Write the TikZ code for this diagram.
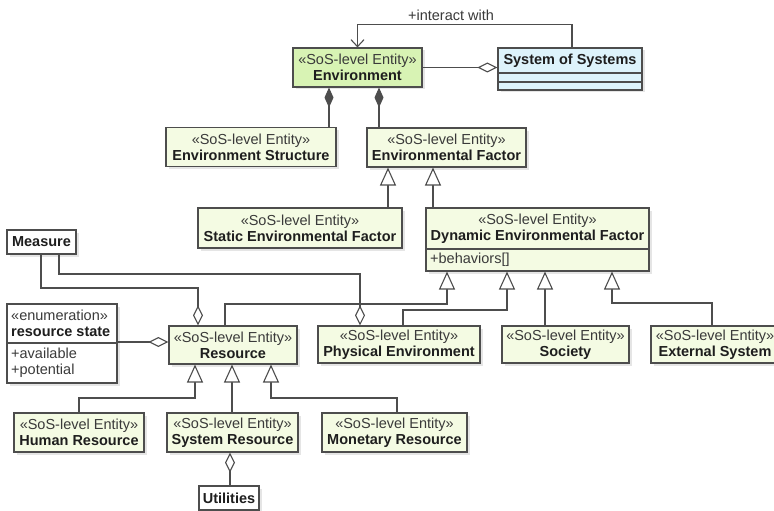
\documentclass[tikz,border=0pt]{standalone}
\usepackage{fontspec}
\setmainfont{Liberation Sans}
\usepackage{xcolor}
\usetikzlibrary{arrows.meta,shadows}

\definecolor{linegray}{HTML}{4D4D4D}
\definecolor{entgreen}{HTML}{F4FBE3}
\definecolor{envgreen}{HTML}{D8F3B4}
\definecolor{sosblue}{HTML}{DDF3FB}
\definecolor{txtgray}{HTML}{3A3A3A}
\definecolor{txtdark}{HTML}{1E1E1E}

\newcommand{\umlfont}{\fontsize{14.5}{16}\selectfont}
\newcommand{\stereo}[1]{{\color{txtgray}«#1»}}

\tikzset{
  entity/.style={draw=linegray, fill=entgreen, line width=1.1pt, align=center,
    inner sep=2pt, minimum height=39pt, font=\umlfont, text=txtdark,
    drop shadow={shadow xshift=2.5pt, shadow yshift=-2.5pt, fill=black!10, opacity=1}},
  plainbox/.style={entity, fill=white, font=\umlfont\bfseries, minimum height=24pt},
  gener/.style={draw=linegray, line width=1.1pt, -{Triangle[fill=white, length=18pt, width=16pt]}},
  aggr/.style={draw=linegray, line width=1.1pt, -{Diamond[fill=white, length=20pt, width=10pt]}},
  compo/.style={draw=linegray, line width=1.1pt, {Diamond[length=20pt, width=9pt]}-},
  navig/.style={draw=linegray, line width=1.1pt, -{Straight Barb[length=7pt, width=13pt]}},
  sepline/.style={draw=linegray, line width=1.1pt}
}

\begin{document}
\begin{tikzpicture}[x=1pt, y=-1pt]

    % Fix the picture size
    \clip (0,0) rectangle (774,511);
    \fill[white] (0,0) rectangle (774,511);

    % Top: environment and system of systems
    \node[entity, fill=envgreen, minimum width=129pt] (env) at (357.5,67.5)
        {\stereo{SoS-level Entity}\\\textbf{Environment}};
    \node[entity, fill=sosblue, minimum width=144pt, minimum height=42pt] (sos) at (570,69) {};
    \node[font=\umlfont\bfseries, text=txtdark] (sosname) at (570,60.5) {System of Systems};
    \draw[sepline] (sos.west |- 0,73) -- (sos.east |- 0,73);
    \draw[sepline] (sos.west |- 0,82) -- (sos.east |- 0,82);

    \node[font=\umlfont, text=txtgray] (interact) at (451,15) {+interact with};
    \draw[navig] (sos.north) ++(2,0) -- ++(0,-23) -| (env.north);
    \draw[aggr] (env.east) -- (sos.west |- env.east);

    % Environment parts
    \node[entity, minimum width=170pt] (envstruct) at (251,147)
        {\stereo{SoS-level Entity}\\\textbf{Environment Structure}};
    \node[entity, minimum width=159pt] (envfactor) at (446.5,147.5)
        {\stereo{SoS-level Entity}\\\textbf{Environmental Factor}};
    \draw[compo] (329,0 |- env.south) -- (329,0 |- envstruct.north);
    \draw[compo] (379,0 |- env.south) -- (379,0 |- envfactor.north);

    % Static and dynamic factors
    \node[entity, minimum width=204pt, minimum height=40pt] (static) at (300,228)
        {\stereo{SoS-level Entity}\\\textbf{Static Environmental Factor}};
    \node[entity, minimum width=223pt, minimum height=63pt] (dynamic) at (537.5,239.5) {};
    \node[font=\umlfont, align=center, text=txtdark] (dynname) at (537.5,228.5)
        {\stereo{SoS-level Entity}\\\textbf{Dynamic Environmental Factor}};
    \draw[sepline] (dynamic.west |- 0,249) -- (dynamic.east |- 0,249);
    \node[font=\umlfont, anchor=west, inner sep=0pt, text=txtgray] (behaviors) at (430,260) {+behaviors[]};
    \draw[gener] (388,0 |- static.north) -- (388,0 |- envfactor.south);
    \draw[gener] (433,0 |- dynamic.north) -- (433,0 |- envfactor.south);

    % Kinds of dynamic factor
    \node[entity, minimum width=128pt, minimum height=38pt] (resource) at (233,345)
        {\stereo{SoS-level Entity}\\\textbf{Resource}};
    \node[entity, minimum width=162pt, minimum height=37pt] (physical) at (399,344.5)
        {\stereo{SoS-level Entity}\\\textbf{Physical Environment}};
    \node[entity, minimum width=127pt, minimum height=37pt] (society) at (565.5,344.5)
        {\stereo{SoS-level Entity}\\\textbf{Society}};
    \node[entity, minimum width=128pt, minimum height=37pt] (external) at (715,344.5)
        {\stereo{SoS-level Entity}\\\textbf{External System}};
    \draw[gener] (225,0 |- resource.north) -- (225,304) -| (447,0 |- dynamic.south);
    \draw[gener] (403,0 |- physical.north) -- (403,310) -| (507,0 |- dynamic.south);
    \draw[gener] (545,0 |- society.north) -- (545,0 |- dynamic.south);
    \draw[gener] (712,0 |- external.north) -- (712,303) -| (612,0 |- dynamic.south);

    % Measure
    \node[plainbox, minimum width=69pt] (measure) at (41.5,242) {Measure};
    \draw[aggr] (41,0 |- measure.south) -- (41,288) -| (198,0 |- resource.north);
    \draw[aggr] (59,0 |- measure.south) -- (59,274) -| (360,0 |- physical.north);

    % Resource state enumeration
    \node[entity, fill=white, minimum width=110pt, minimum height=79pt] (rstate) at (62,343.5) {};
    \node[font=\umlfont, anchor=west, align=left, inner sep=0pt, text=txtdark] (rstitle) at (11,323.5)
        {\stereo{enumeration}\\\textbf{resource state}};
    \draw[sepline] (rstate.west |- 0,343) -- (rstate.east |- 0,343);
    \node[font=\umlfont, anchor=west, align=left, inner sep=0pt, text=txtgray] (rsitems) at (11,362.5)
        {+available\\+potential};
    \draw[aggr] (rstate.east |- 0,342) -- (resource.west |- 0,342);

    % Kinds of resource
    \node[entity, minimum width=130pt] (human) at (79,432.5)
        {\stereo{SoS-level Entity}\\\textbf{Human Resource}};
    \node[entity, minimum width=131pt] (sysres) at (232.5,432.5)
        {\stereo{SoS-level Entity}\\\textbf{System Resource}};
    \node[entity, minimum width=145pt] (monetary) at (394.5,432.5)
        {\stereo{SoS-level Entity}\\\textbf{Monetary Resource}};
    \draw[gener] (79,0 |- human.north) -- (79,398) -| (195,0 |- resource.south);
    \draw[gener] (232,0 |- sysres.north) -- (232,0 |- resource.south);
    \draw[gener] (397,0 |- monetary.north) -- (397,398) -| (271,0 |- resource.south);

    % Utilities
    \node[plainbox, minimum width=60pt] (utilities) at (229,498) {Utilities};
    \draw[aggr] (230,0 |- utilities.north) -- (230,0 |- sysres.south);

\end{tikzpicture}
\end{document}
